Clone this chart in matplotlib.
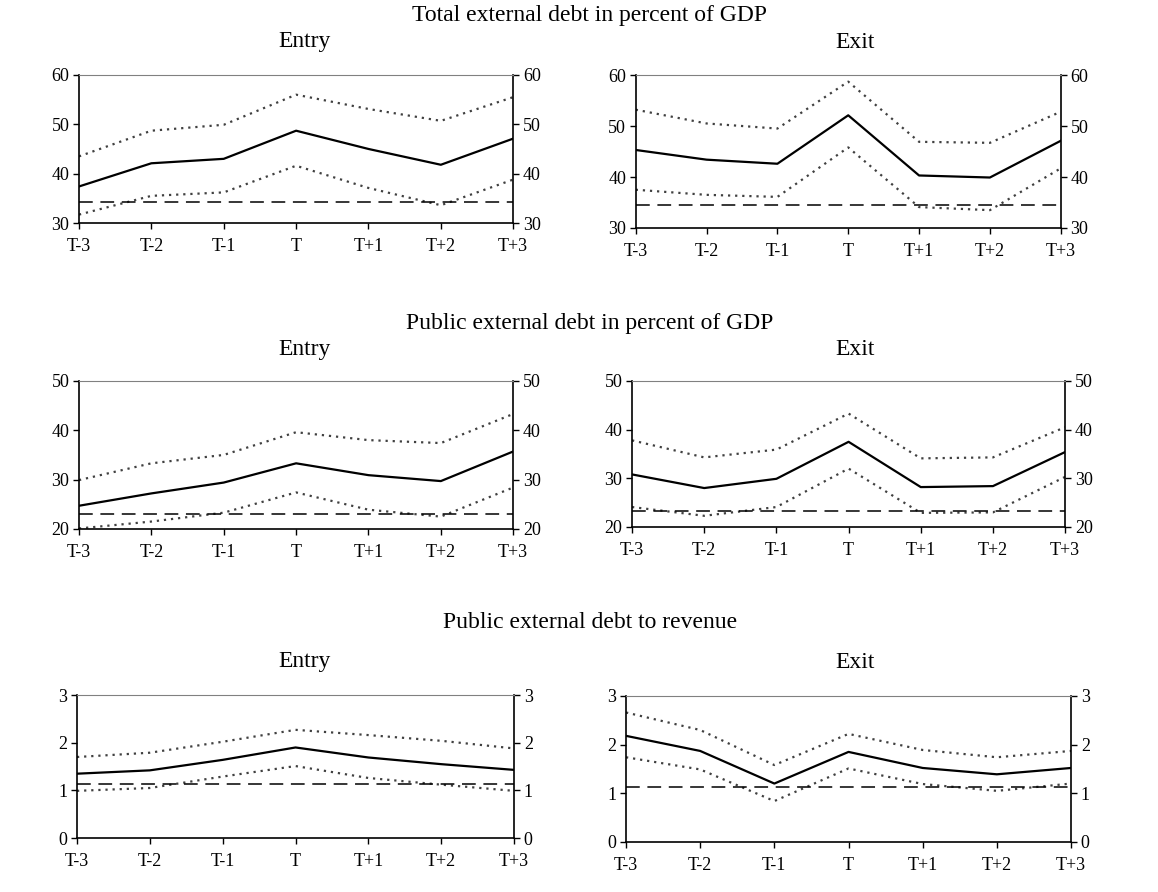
import numpy as np
import matplotlib
matplotlib.use("Agg")
import matplotlib.pyplot as plt

plt.rcParams['font.family'] = ['Liberation Serif', 'DejaVu Serif']

periods = ["T-3", "T-2", "T-1", "T", "T+1", "T+2", "T+3"]

# total external debt, % of GDP
total_entry_mean = [37.4, 42.1, 43.0, 48.7, 45.0, 41.8, 47.1]
total_entry_upper = [43.5, 48.7, 49.9, 56.0, 53.1, 50.7, 55.5]
total_entry_lower = [31.7, 35.5, 36.2, 41.6, 37.1, 33.6, 38.8]
total_entry_ref = 34.2

total_exit_mean = [45.3, 43.4, 42.6, 52.1, 40.3, 39.9, 47.1]
total_exit_upper = [53.2, 50.5, 49.5, 58.7, 46.9, 46.7, 52.8]
total_exit_lower = [37.5, 36.5, 36.1, 45.8, 34.1, 33.5, 41.7]
total_exit_ref = 34.5

# public external debt, % of GDP
public_entry_mean = [24.7, 27.2, 29.4, 33.3, 30.9, 29.7, 35.7]
public_entry_upper = [29.9, 33.3, 35.0, 39.6, 38.0, 37.4, 43.3]
public_entry_lower = [20.1, 21.5, 23.3, 27.4, 23.9, 22.5, 28.4]
public_entry_ref = 23.0

public_exit_mean = [30.8, 28.0, 29.9, 37.5, 28.2, 28.4, 35.4]
public_exit_upper = [37.8, 34.3, 35.9, 43.3, 34.1, 34.3, 40.5]
public_exit_lower = [24.1, 22.3, 24.1, 32.0, 22.9, 23.0, 30.3]
public_exit_ref = 23.2

# public external debt to revenue
revenue_entry_mean = [1.35, 1.42, 1.64, 1.90, 1.69, 1.55, 1.43]
revenue_entry_upper = [1.70, 1.79, 2.02, 2.27, 2.16, 2.04, 1.88]
revenue_entry_lower = [0.99, 1.05, 1.29, 1.51, 1.26, 1.12, 0.99]
revenue_entry_ref = 1.13

revenue_exit_mean = [2.18, 1.87, 1.20, 1.85, 1.52, 1.39, 1.52]
revenue_exit_upper = [2.66, 2.30, 1.58, 2.22, 1.89, 1.74, 1.87]
revenue_exit_lower = [1.74, 1.49, 0.84, 1.51, 1.19, 1.05, 1.20]
revenue_exit_ref = 1.12

fig = plt.figure(figsize=(11.58, 8.92), dpi=100)

panels = [
    ([0.0682, 0.750, 0.375, 0.166], total_entry_mean, total_entry_upper, total_entry_lower, total_entry_ref, (30, 60), [30, 40, 50, 60]),
    ([0.549, 0.7444, 0.367, 0.1715], total_exit_mean, total_exit_upper, total_exit_lower, total_exit_ref, (30, 60), [30, 40, 50, 60]),
    ([0.0682, 0.407, 0.375, 0.166], public_entry_mean, public_entry_upper, public_entry_lower, public_entry_ref, (20, 50), [20, 30, 40, 50]),
    ([0.5458, 0.4092, 0.374, 0.1637], public_exit_mean, public_exit_upper, public_exit_lower, public_exit_ref, (20, 50), [20, 30, 40, 50]),
    ([0.0665, 0.0605, 0.3774, 0.1603], revenue_entry_mean, revenue_entry_upper, revenue_entry_lower, revenue_entry_ref, (0, 3), [0, 1, 2, 3]),
    ([0.5406, 0.0561, 0.3843, 0.1637], revenue_exit_mean, revenue_exit_upper, revenue_exit_lower, revenue_exit_ref, (0, 3), [0, 1, 2, 3]),
]

x = np.arange(len(periods))
for rect, mean, upper, lower, ref, ylim, yticks in panels:
    ax = fig.add_axes(rect)
    ax.plot(x, upper, linestyle=(0, (1, 2.2)), color='0.25', lw=1.6)
    ax.plot(x, lower, linestyle=(0, (1, 2.2)), color='0.25', lw=1.6)
    ax.plot(x, [ref] * len(x), linestyle=(0, (9, 5)), color='black', lw=1.1)
    ax.plot(x, mean, color='black', lw=1.6)
    ax.set_xlim(0, len(x) - 1)
    ax.set_ylim(*ylim)
    ax.set_yticks(yticks)
    ax.set_xticks(x)
    ax.set_xticklabels(periods)
    ax.tick_params(direction='out', length=4, width=1, labelsize=13, right=True, labelright=True, pad=3)
    ax.tick_params(axis='x', pad=7)
    for side in ['left', 'right', 'bottom']:
        ax.spines[side].set_linewidth(1.2)
    ax.spines['top'].set_color('0.5')
    ax.spines['top'].set_linewidth(0.8)

titles = [
    (15, "Total external debt in percent of GDP", 42),
    (323, "Public external debt in percent of GDP", 349),
    (622, "Public external debt to revenue", 662),
]
for ty, txt, sy in titles:
    fig.text(590 / 1158, 1 - ty / 892, txt, ha='center', va='center', fontsize=17)
    fig.text(305 / 1158, 1 - sy / 892, "Entry", ha='center', va='center', fontsize=17)
    fig.text(855 / 1158, 1 - sy / 892, "Exit", ha='center', va='center', fontsize=17)

fig.savefig("out.png", dpi=100)
